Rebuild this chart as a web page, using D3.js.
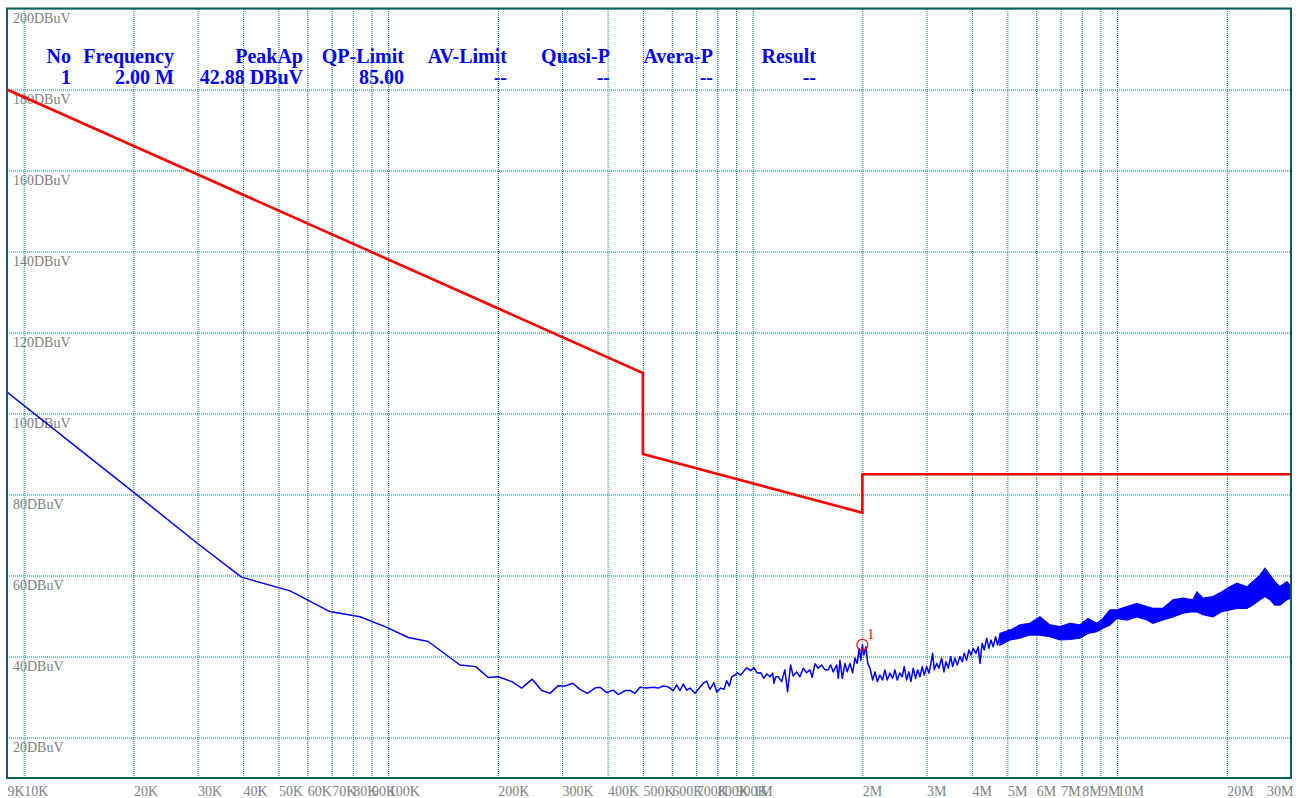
<!DOCTYPE html>
<html>
<head>
<meta charset="utf-8">
<script src="https://cdn.jsdelivr.net/npm/d3@7"></script>
<style>
  body { margin: 0; background: #fff; }
  svg { display: block; }
</style>
</head>
<body>
<div id="chart"></div>
<script>
//////////////////// Data ////////////////////

// axis ticks
const xTicksKHz = [9, 10, 20, 30, 40, 50, 60, 70, 80, 90, 100, 200, 300, 400, 500, 600, 700, 800, 900,
  1000, 2000, 3000, 4000, 5000, 6000, 7000, 8000, 9000, 10000, 20000, 30000]
const xTickLabels = ["9K", "10K", "20K", "30K", "40K", "50K", "60K", "70K", "80K", "90K", "100K", "200K", "300K",
  "400K", "500K", "600K", "700K", "800K", "900K", "1M", "2M", "3M", "4M", "5M", "6M", "7M", "8M", "9M", "10M", "20M", "30M"]
const yTicks = [20, 40, 60, 80, 100, 120, 140, 160, 180, 200]
const yUnit = "DBuV"

// marker table
const tableHeaders = ["No", "Frequency", "PeakAp", "QP-Limit", "AV-Limit", "Quasi-P", "Avera-P", "Result"]
const tableValues = ["1", "2.00 M", "42.88 DBuV", "85.00", "--", "--", "--", "--"]
const markerFreqKHz = 2000
const markerLevel = 42.88
const markerLabel = "1"

// limit line (red)
const limitFreqKHz = [9, 500, 500, 2000, 2000, 30000]
const limitLevel = [180, 110, 90, 75.5, 85, 85]

// measured trace (blue), kHz / dBuV
const traceFreqKHz = [
  9, 20, 30, 39.6, 53.8, 69.2, 83.7, 99.1, 113.6, 128.8, 157.4, 173.9, 188.2, 200.6,
  218.3, 232.4, 248.5, 263.8, 277.9, 292.9, 305.6, 320.8, 335.9, 351.8, 369.3, 381.2, 397.7,
  414.6, 427.9, 446.4, 460.7, 475.5, 490.8, 512.0, 533.8, 550.9, 568.6, 586.9, 605.7, 618.8,
  631.9, 645.2, 659.2, 673.1, 694.7, 713.8, 732.1, 748.0, 763.8, 783.3, 796.8, 817.2, 834.4,
  848.8, 862.8, 876.0, 894.4, 907.5, 927.2, 963.0, 987.6, 1008, 1030, 1052, 1074, 1093, 1116,
  1135, 1144, 1158,
  1175, 1201, 1226, 1247, 1271, 1292, 1320, 1348, 1377, 1406, 1436, 1457, 1482, 1513, 1546,
  1579, 1612, 1637, 1664, 1700, 1718, 1736, 1762, 1792, 1817, 1849, 1881, 1909, 1936, 1960,
  1982, 2000, 2020, 2046, 2069, 2099, 2135, 2166, 2198, 2235, 2273, 2306, 2340, 2381, 2422,
  2457, 2493, 2536, 2573, 2606, 2645, 2684, 2718, 2758, 2800, 2836, 2878, 2920, 2957, 3002,
  3046, 3085, 3118, 3150, 3198, 3245, 3301, 3349, 3392, 3442, 3494, 3539, 3589, 3642, 3704,
  3759, 3806, 3864, 3921, 3971, 4029, 4099, 4159, 4204, 4265, 4320, 4385, 4450, 4506, 4572,
  4642, 4701, 4770, 4840, 4923, 4995, 5058, 5135, 5211, 5300, 5388
]
const traceLevel = [
  105.3, 80.6, 67.9, 59.6, 56.2, 51.1, 49.8, 47.2, 44.7, 43.7, 37.9, 37.5, 34.8, 35.0,
  33.8, 32.2, 34.4, 31.6, 30.9, 32.8, 32.7, 33.4, 31.9, 30.9, 32.2, 32.4, 31.1,
  31.7, 30.6, 31.6, 31.6, 30.9, 32.4, 32.2, 32.4, 32.2, 32.7, 32.5, 31.6, 33.0,
  31.6, 33.2, 31.7, 32.2, 30.9, 32.2, 33.4, 33.9, 31.9, 33.5, 31.2, 32.2, 31.9,
  34.0, 32.7, 35.0, 35.4, 36.0, 35.4, 37.2, 36.5, 37.2, 35.9, 36.0, 34.6, 35.7, 35.0,
  35.9, 33.4, 35.0,
  35.0, 33.8, 36.7, 31.3, 37.9, 35.2, 36.2, 35.0, 37.1, 36.0, 36.7, 34.9, 38.2, 37.1, 37.9,
  36.7, 36.7, 37.9, 36.2, 37.9, 34.6, 39.1, 34.6, 38.3, 36.2, 38.3, 36.0, 39.6, 38.3, 42.0,
  39.1, 42.9, 40.4, 42.4, 38.3, 37.1, 34.2, 36.2, 33.8, 35.4, 34.2, 36.7, 34.2, 35.9, 34.6,
  36.7, 34.2, 35.9, 35.0, 37.5, 34.2, 36.2, 33.8, 37.1, 34.6, 36.7, 35.0, 37.5, 35.4, 37.5,
  35.9, 38.3, 40.8, 36.7, 38.3, 37.1, 39.6, 36.2, 38.7, 37.1, 40.0, 37.5, 39.6, 37.9, 40.0,
  38.7, 40.8, 39.1, 41.6, 40.4, 42.0, 40.8, 42.4, 38.3, 43.3, 41.6, 44.5, 42.0, 44.1, 42.4,
  44.9, 42.8, 45.3, 43.7, 45.7, 44.5, 46.6, 44.9, 46.1, 44.7, 46.4
]

// dense part of the trace above ~4.8 MHz, read as a min / max band
const bandFreqKHz = [4770, 5081, 5412, 5765, 6141, 6541, 6967, 7422, 7906, 8316, 8805, 9143, 9556,
  9987, 10640, 11330, 12070, 12540, 13360, 14230, 15160, 16140, 16560, 17200, 18320, 19390, 20390,
  21310, 22700, 23580, 24650, 25440, 26260, 27100, 27970, 29230, 30000]
const bandHigh = [45.7, 46.5, 47.8, 48.2, 49.8, 47.8, 47.4, 48.2, 47.8, 49.4, 48.2, 49.4, 51.5,
  51.5, 52.3, 53.1, 52.3, 51.9, 51.9, 54.0, 54.4, 54.0, 56.0, 54.4, 54.8, 56.0, 57.2,
  58.1, 57.2, 58.5, 60.1, 61.8, 60.1, 58.5, 57.2, 58.5, 57.2]
const bandLow = [42.8, 44.1, 44.5, 45.3, 45.3, 44.9, 44.1, 44.2, 44.5, 45.7, 46.1, 47.0, 47.8,
  49.4, 49.0, 49.8, 49.0, 48.2, 49.0, 49.8, 50.7, 51.1, 51.0, 50.3, 49.8, 51.1, 51.5,
  51.9, 51.9, 52.7, 54.0, 54.8, 54.0, 52.7, 52.7, 54.0, 54.4]

//////////////////// Constants ////////////////////

const width = 1301
const height = 798
const frame = {left: 7, top: 8.5, right: 1291, bottom: 778}
const gridColour = "#008080"
const frameColour = "#0b5e5e"
const labelColour = "#808080"
const serif = "'Liberation Serif', 'Times New Roman', serif"
const tableRightEdges = [71, 174, 303, 404, 507, 610, 713, 816]

const svg = d3.select("#chart")
  .append("svg")
    .attr("width", width)
    .attr("height", height)
    .style("background", "#fff")

const xScale = d3.scaleLog()
  .domain([9, 30000])
  .range([frame.left, frame.right])
const yScale = d3.scaleLinear()
  .domain([10, 200])
  .range([frame.bottom, frame.top])

//////////////////// Header table ////////////////////

const tableG = svg.append("g")
  .attr("font-family", serif)
  .attr("font-weight", "bold")
  .attr("font-size", 20)
  .attr("fill", "#0000ff")
  .attr("text-anchor", "end")

tableG.selectAll(".head")
  .data(tableHeaders)
  .join("text")
    .attr("class", "head")
    .attr("x", (d, i) => tableRightEdges[i])
    .attr("y", 63)
    .text(d => d)

tableG.selectAll(".val")
  .data(tableValues)
  .join("text")
    .attr("class", "val")
    .attr("x", (d, i) => tableRightEdges[i])
    .attr("y", 84)
    .text(d => d)

//////////////////// Axes / grid ////////////////////

const xAxis = g => g
  .attr("transform", `translate(0, ${frame.bottom})`)
  .call(d3.axisBottom(xScale)
    .tickValues(xTicksKHz)
    .tickFormat((d, i) => xTickLabels[i])
    .tickSize(-(frame.bottom - frame.top)))
  .call(g => g.select(".domain").remove())
  .call(g => g.selectAll(".tick line")
    .attr("stroke", gridColour)
    .attr("stroke-dasharray", "1,1"))
  .call(g => g.selectAll(".tick text")
    .attr("y", 18)
    .attr("dy", 0)
    .attr("text-anchor", (d, i) => i === xTicksKHz.length - 1 ? "end" : "start")
    .attr("dx", (d, i) => i === xTicksKHz.length - 1 ? 2 : 0)
    .attr("fill", labelColour)
    .attr("font-family", serif)
    .attr("font-size", 14))

const yAxis = g => g
  .attr("transform", `translate(${frame.left}, 0)`)
  .call(d3.axisLeft(yScale)
    .tickValues(yTicks)
    .tickFormat(d => `${d}${yUnit}`)
    .tickSize(-(frame.right - frame.left)))
  .call(g => g.select(".domain").remove())
  .call(g => g.selectAll(".tick line")
    .attr("stroke", gridColour)
    .attr("stroke-dasharray", "1,1"))
  .call(g => g.selectAll(".tick text")
    .attr("x", 6)
    .attr("dy", 14)
    .attr("text-anchor", "start")
    .attr("fill", labelColour)
    .attr("font-family", serif)
    .attr("font-size", 14))

svg.append("g").call(yAxis)
svg.append("g").call(xAxis)

//////////////////// Lines ////////////////////

svg.append("clipPath").attr("id", "plot-clip")
  .append("rect")
    .attr("x", frame.left)
    .attr("y", frame.top)
    .attr("width", frame.right - frame.left)
    .attr("height", frame.bottom - frame.top)

const plotG = svg.append("g").attr("clip-path", "url(#plot-clip)")

// limit
const limitData = limitFreqKHz.map((f, i) => ({f, v: limitLevel[i]}))
plotG.append("path")
  .datum(limitData)
  .attr("fill", "none")
  .attr("stroke", "#ff0000")
  .attr("stroke-width", 2.6)
  .attr("d", d3.line(d => xScale(d.f), d => yScale(d.v)))

// trace band (dense part)
const bandData = bandFreqKHz.map((f, i) => ({f, hi: bandHigh[i], lo: bandLow[i]}))
plotG.append("path")
  .datum(bandData)
  .attr("fill", "#0000ff")
  .attr("stroke", "#0000ff")
  .attr("stroke-width", 1.2)
  .attr("stroke-linejoin", "miter")
  .attr("d", d3.area(d => xScale(d.f), d => yScale(d.lo), d => yScale(d.hi)))

// trace line
const traceData = traceFreqKHz.map((f, i) => ({f, v: traceLevel[i]}))
plotG.append("path")
  .datum(traceData)
  .attr("fill", "none")
  .attr("stroke", "#0000ff")
  .attr("stroke-width", 1.5)
  .attr("stroke-linejoin", "round")
  .attr("d", d3.line(d => xScale(d.f), d => yScale(d.v)))

// marker
svg.append("circle")
  .attr("cx", xScale(markerFreqKHz))
  .attr("cy", yScale(markerLevel))
  .attr("r", 5.5)
  .attr("fill", "none")
  .attr("stroke", "#ff0000")
  .attr("stroke-width", 1.2)
svg.append("text")
  .attr("x", xScale(markerFreqKHz) + 5)
  .attr("y", yScale(markerLevel) - 6)
  .attr("font-family", serif)
  .attr("font-size", 14)
  .attr("fill", "#ff0000")
  .text(markerLabel)

// frame
svg.append("rect")
  .attr("x", frame.left)
  .attr("y", frame.top)
  .attr("width", frame.right - frame.left)
  .attr("height", frame.bottom - frame.top)
  .attr("fill", "none")
  .attr("stroke", frameColour)
  .attr("stroke-width", 2)
</script>
</body>
</html>
